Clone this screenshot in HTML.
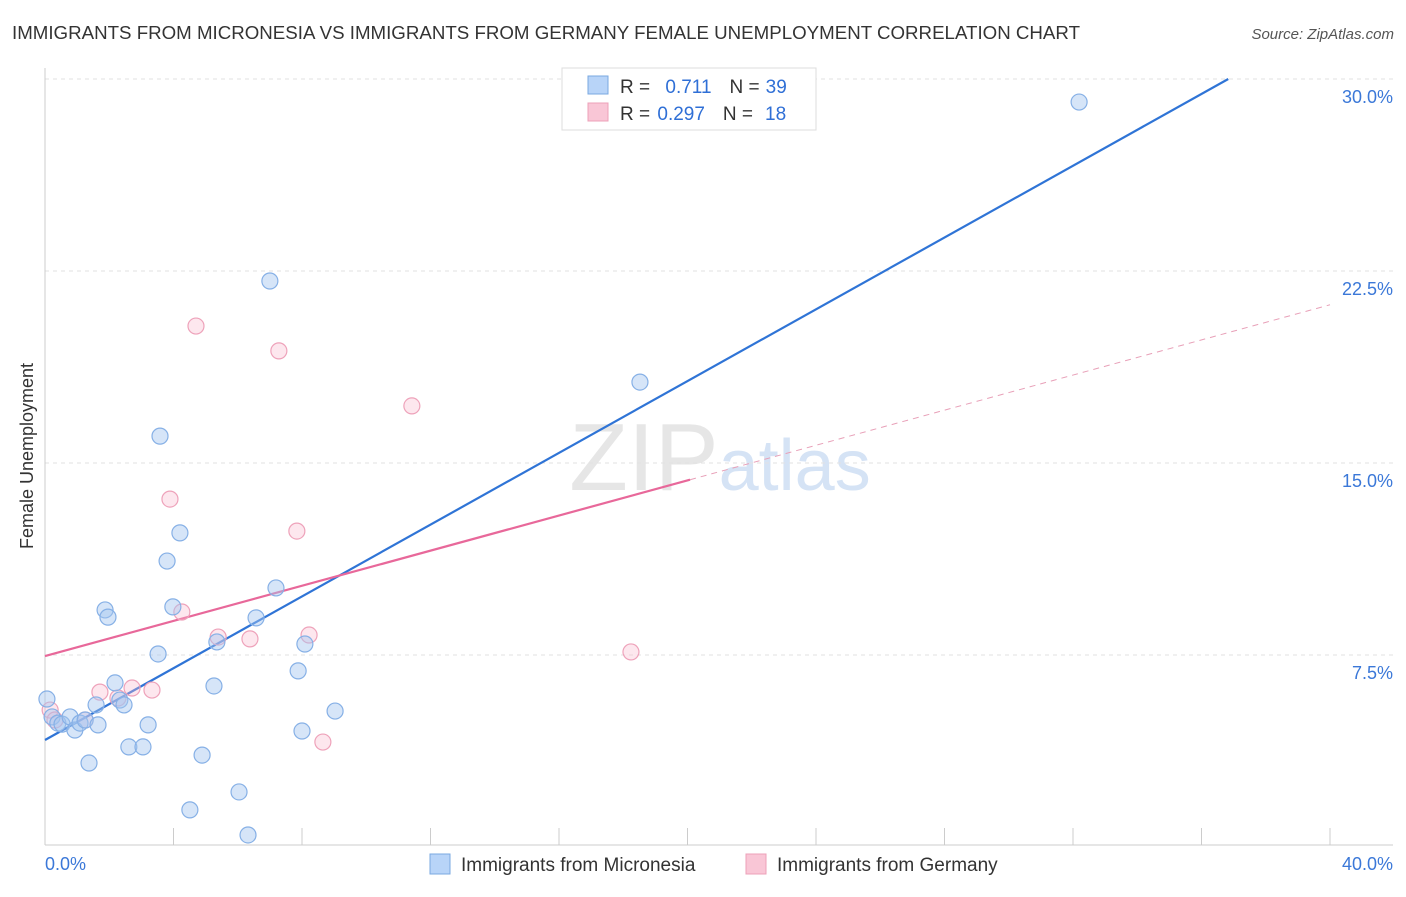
<!DOCTYPE html>
<html><head><meta charset="utf-8"><style>
body{margin:0;background:#fff;font-family:"Liberation Sans",sans-serif;}
svg text{font-family:"Liberation Sans",sans-serif;}
</style></head><body>
<svg id="chart" width="1406" height="892" xmlns="http://www.w3.org/2000/svg">
<text x="12" y="39" font-size="18" fill="#333" textLength="1068" lengthAdjust="spacingAndGlyphs">IMMIGRANTS FROM MICRONESIA VS IMMIGRANTS FROM GERMANY FEMALE UNEMPLOYMENT CORRELATION CHART</text>
<text x="1394" y="39" font-size="15" fill="#555" text-anchor="end" font-style="italic">Source: ZipAtlas.com</text>
<text x="720" y="490" font-size="96" text-anchor="middle" fill="#e6e6e6" font-family="Liberation Serif">ZIP<tspan fill="#d5e3f5" font-family="Liberation Sans" font-size="72">atlas</tspan></text>
<text transform="translate(33,456) rotate(-90)" font-size="18" fill="#333" text-anchor="middle">Female Unemployment</text>
<g id="grid"></g><g id="axes"></g><g id="lines"></g><g id="pts"></g>
<g>
<rect x="562" y="68" width="254" height="62" fill="#fff" stroke="#ddd"/>
<rect x="588" y="76" width="20" height="18" fill="#b8d4f8" stroke="#7aa8e0"/>
<text x="620" y="93" font-size="19" fill="#333">R = <tspan fill="#2f6fd6" dx="10">0.711</tspan><tspan dx="18">N =</tspan><tspan fill="#2f6fd6" dx="6">39</tspan></text>
<rect x="588" y="103" width="20" height="18" fill="#f9c6d6" stroke="#eda0b8"/>
<text x="620" y="120" font-size="19" fill="#333">R = <tspan fill="#2f6fd6" dx="2">0.297</tspan><tspan dx="18">N =</tspan><tspan fill="#2f6fd6" dx="12">18</tspan></text>
</g>
<g>
<rect x="430" y="854" width="20" height="20" fill="#b8d4f8" stroke="#7aa8e0"/>
<text x="461" y="871" font-size="19" fill="#333">Immigrants from Micronesia</text>
<rect x="746" y="854" width="20" height="20" fill="#f9c6d6" stroke="#eda0b8"/>
<text x="777" y="871" font-size="19" fill="#333">Immigrants from Germany</text>
</g>
</svg>
<script>
const blueX=[0.06,0.22,0.40,0.53,0.78,0.93,1.09,1.25,1.37,1.59,1.65,1.87,1.96,2.18,2.33,2.46,2.61,3.05,3.21,3.52,3.58,3.80,3.98,4.20,4.51,4.89,5.26,5.35,6.04,6.32,6.57,7.00,7.19,7.88,8.00,8.09,9.03,18.52,32.19];
const blueY=[5.78,5.08,4.84,4.80,5.08,4.57,4.84,4.96,3.28,5.55,4.77,9.26,8.98,6.41,5.74,5.55,3.91,3.91,4.77,7.54,16.05,11.17,9.38,12.27,1.45,3.59,6.29,8.01,2.15,0.47,8.95,22.11,10.12,6.88,4.53,7.93,5.31,18.16,29.10];
const pinkX=[0.16,0.31,1.25,1.71,2.27,2.71,3.33,3.89,4.26,4.70,5.39,6.38,7.28,7.84,8.22,8.65,11.42,18.24];
const pinkY=[5.35,4.96,4.96,6.05,5.82,6.21,6.13,13.59,9.18,20.35,8.20,8.13,19.38,12.34,8.28,4.10,17.23,7.62];
const yTicks=[7.5,15,22.5,30];
const yTickLabels=["7.5%","15.0%","22.5%","30.0%"];
const xTicks=[0,4,8,12,16,20,24,28,32,36,40];
const blueLine=[4.18,0.701];
const pinkLine=[7.46,0.343,20.08];
const NS="http://www.w3.org/2000/svg";
const sx=v=>45+v*32.125, sy=v=>847-v*25.6;
function mk(t,a,p){const e=document.createElementNS(NS,t);for(const k in a)e.setAttribute(k,a[k]);document.getElementById(p).appendChild(e);return e;}
yTicks.forEach((t,i)=>{
 const l=mk('line',{x1:45,x2:1393,y1:sy(t),y2:sy(t),stroke:'#e2e2e2','stroke-dasharray':'4,4'},'grid');
 
 
 const tx=mk('text',{x:1393,y:sy(t)+24,'font-size':18,fill:'#3b78d8','text-anchor':'end'},'grid');tx.textContent=yTickLabels[i];
 
 
});
mk('line',{x1:45,x2:45,y1:68,y2:845,stroke:'#ccc'},'axes');
mk('line',{x1:45,x2:1393,y1:845,y2:845,stroke:'#ccc'},'axes');
xTicks.forEach(t=>{const l=mk('line',{x1:sx(t),x2:sx(t),y1:828,y2:845,stroke:'#ccc'},'axes');
 
 });
let a=mk('text',{x:45,y:870,'font-size':18,fill:'#3b78d8'},'axes');a.textContent='0.0%';


a=mk('text',{x:1393,y:870,'font-size':18,fill:'#3b78d8','text-anchor':'end'},'axes');a.textContent='40.0%';


pinkX.forEach((x,i)=>{const c=mk('circle',{cx:sx(x),cy:sy(pinkY[i]),r:8,fill:'rgba(248,185,205,0.35)',stroke:'#eea2ba','stroke-width':1.2},'pts');
 
 });
blueX.forEach((x,i)=>{const c=mk('circle',{cx:sx(x),cy:sy(blueY[i]),r:8,fill:'rgba(165,198,240,0.45)',stroke:'#86b0e6','stroke-width':1.2},'pts');
 
 });
const xe=(30-blueLine[0])/blueLine[1];
let ln=mk('line',{x1:sx(0),y1:sy(blueLine[0]),x2:sx(xe),y2:sy(30),stroke:'#2f74d6','stroke-width':2.2},'lines');


ln=mk('line',{x1:sx(0),y1:sy(pinkLine[0]),x2:sx(pinkLine[2]),y2:sy(pinkLine[0]+pinkLine[1]*pinkLine[2]),stroke:'#e8689a','stroke-width':2.2},'lines');


ln=mk('line',{x1:sx(pinkLine[2]),y1:sy(pinkLine[0]+pinkLine[1]*pinkLine[2]),x2:sx(40),y2:sy(pinkLine[0]+pinkLine[1]*40),stroke:'#e8a0b8','stroke-width':1,'stroke-dasharray':'6,5'},'lines');


</script>
</body></html>
